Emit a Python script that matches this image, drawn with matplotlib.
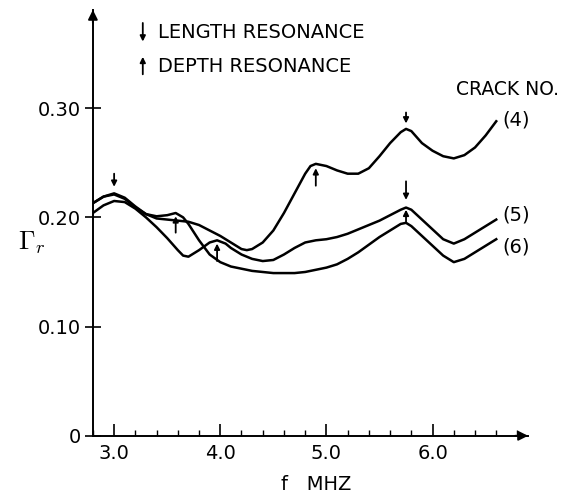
import matplotlib
matplotlib.use("Agg")
import matplotlib.pyplot as plt
from matplotlib.ticker import MultipleLocator

# readings: frequency (MHz) and reflection coefficient
f4 = [2.8, 2.9, 3.0, 3.1, 3.2, 3.3, 3.4, 3.5, 3.6, 3.7, 3.8, 3.9, 4.0, 4.1, 4.2, 4.25,
      4.3, 4.4, 4.5, 4.6, 4.7, 4.8, 4.85, 4.9, 5.0, 5.1, 5.2, 5.3, 5.4, 5.5, 5.6, 5.7,
      5.75, 5.8, 5.9, 6.0, 6.1, 6.2, 6.3, 6.4, 6.5, 6.6]
g4 = [0.213, 0.219, 0.222, 0.218, 0.210, 0.203, 0.199, 0.198, 0.197, 0.196, 0.193, 0.188,
      0.183, 0.177, 0.171, 0.170, 0.171, 0.177, 0.188, 0.204, 0.222, 0.240, 0.247, 0.249,
      0.247, 0.243, 0.240, 0.240, 0.245, 0.256, 0.268, 0.278, 0.281, 0.279, 0.268, 0.261,
      0.256, 0.254, 0.257, 0.264, 0.275, 0.288]

f5 = [2.8, 2.9, 3.0, 3.1, 3.2, 3.3, 3.4, 3.5, 3.6, 3.65, 3.7, 3.8, 3.9, 3.97, 4.05, 4.1,
      4.2, 4.3, 4.4, 4.5, 4.6, 4.7, 4.8, 4.9, 5.0, 5.1, 5.2, 5.3, 5.4, 5.5, 5.6, 5.7,
      5.75, 5.8, 5.9, 6.0, 6.1, 6.2, 6.3, 6.4, 6.5, 6.6]
g5 = [0.204, 0.211, 0.215, 0.214, 0.208, 0.200, 0.191, 0.181, 0.170, 0.165, 0.164, 0.170,
      0.177, 0.179, 0.176, 0.172, 0.166, 0.162, 0.160, 0.161, 0.166, 0.172, 0.177, 0.179,
      0.180, 0.182, 0.185, 0.189, 0.193, 0.197, 0.202, 0.207, 0.209, 0.207, 0.198, 0.189,
      0.180, 0.176, 0.180, 0.186, 0.192, 0.198]

f6 = [2.8, 2.9, 3.0, 3.1, 3.2, 3.3, 3.4, 3.5, 3.58, 3.65, 3.7, 3.8, 3.9, 4.0, 4.1, 4.2,
      4.3, 4.4, 4.5, 4.6, 4.7, 4.8, 4.9, 5.0, 5.1, 5.2, 5.3, 5.4, 5.5, 5.6, 5.7, 5.75,
      5.8, 5.9, 6.0, 6.1, 6.2, 6.3, 6.4, 6.5, 6.6]
g6 = [0.213, 0.219, 0.221, 0.217, 0.209, 0.203, 0.201, 0.202, 0.204, 0.200, 0.194, 0.179,
      0.166, 0.159, 0.155, 0.153, 0.151, 0.150, 0.149, 0.149, 0.149, 0.150, 0.152, 0.154,
      0.157, 0.162, 0.168, 0.175, 0.182, 0.188, 0.194, 0.195, 0.192, 0.183, 0.174, 0.165,
      0.159, 0.162, 0.168, 0.174, 0.180]

crack_labels = ["(4)", "(5)", "(6)"]
label_y = [0.289, 0.2025, 0.173]

# resonance markers (frequency, tail, head)
length_arrows = [(3.0, 0.240, 0.228), (5.75, 0.296, 0.286), (5.75, 0.233, 0.216)]
depth_arrows = [(3.58, 0.186, 0.201), (3.97, 0.160, 0.176), (4.9, 0.229, 0.245),
                (5.75, 0.196, 0.207)]

yticks = [0, 0.10, 0.20, 0.30]
ytick_labels = ["0", "0.10", "0.20", "0.30"]
xticks = [3.0, 4.0, 5.0, 6.0]
xtick_labels = ["3.0", "4.0", "5.0", "6.0"]

plt.rcParams["font.family"] = "DejaVu Sans"
plt.rcParams["mathtext.fontset"] = "cm"

fig = plt.figure(figsize=(5.63, 4.93), dpi=100)
ax = fig.add_axes([0.165, 0.116, 0.773, 0.864])

for fx, gy in [(f4, g4), (f5, g5), (f6, g6)]:
    ax.plot(fx, gy, color="black", lw=1.8, solid_joinstyle="round")

for lab, y in zip(crack_labels, label_y):
    ax.text(6.66, y, lab, fontsize=14, va="center", ha="left")

ax.text(6.22, 0.317, "CRACK NO.", fontsize=13.5, va="center", ha="left")

arrow_kw = dict(arrowstyle="-|>", color="black", lw=1.3, mutation_scale=8,
                shrinkA=0, shrinkB=0)
for x, y0, y1 in length_arrows + depth_arrows:
    ax.annotate("", xy=(x, y1), xytext=(x, y0), arrowprops=arrow_kw)

# legend drawn by hand
ax.annotate("", xy=(3.27, 0.361), xytext=(3.27, 0.378), arrowprops=arrow_kw)
ax.annotate("", xy=(3.27, 0.347), xytext=(3.27, 0.331), arrowprops=arrow_kw)
ax.text(3.415, 0.369, "LENGTH RESONANCE", fontsize=14, va="center", ha="left")
ax.text(3.415, 0.338, "DEPTH RESONANCE", fontsize=14, va="center", ha="left")

ax.set_xlim(2.8, 6.9)
ax.set_ylim(0, 0.39)
ax.spines["top"].set_visible(False)
ax.spines["right"].set_visible(False)
ax.spines["left"].set_linewidth(1.4)
ax.spines["bottom"].set_linewidth(1.4)

# arrow heads on the axes
ax.annotate("", xy=(1.0, 0), xytext=(0.97, 0), xycoords="axes fraction",
            arrowprops=dict(arrowstyle="-|>", color="black", lw=1.4, mutation_scale=14,
                            shrinkA=0, shrinkB=0))
ax.annotate("", xy=(0, 1.0), xytext=(0, 0.97), xycoords="axes fraction",
            arrowprops=dict(arrowstyle="-|>", color="black", lw=1.4, mutation_scale=14,
                            shrinkA=0, shrinkB=0))

ax.set_yticks(yticks)
ax.set_yticklabels(ytick_labels, fontsize=14)
ax.set_xticks(xticks)
ax.set_xticklabels(xtick_labels, fontsize=14)
ax.xaxis.set_minor_locator(MultipleLocator(0.2))
ax.tick_params(axis="y", direction="inout", length=11, width=1.2, pad=3)
ax.tick_params(axis="x", which="major", direction="in", length=9, width=1.2, pad=6)
ax.tick_params(axis="x", which="minor", direction="in", length=4, width=1.0)

fig.text(316 / 563, 1 - 485 / 493, "f   MHZ", fontsize=14, ha="center", va="center")
fig.text(32 / 563, 1 - 243 / 493, r"$\Gamma_r$", fontsize=19, ha="center", va="center")

fig.savefig("out.png", dpi=100)
